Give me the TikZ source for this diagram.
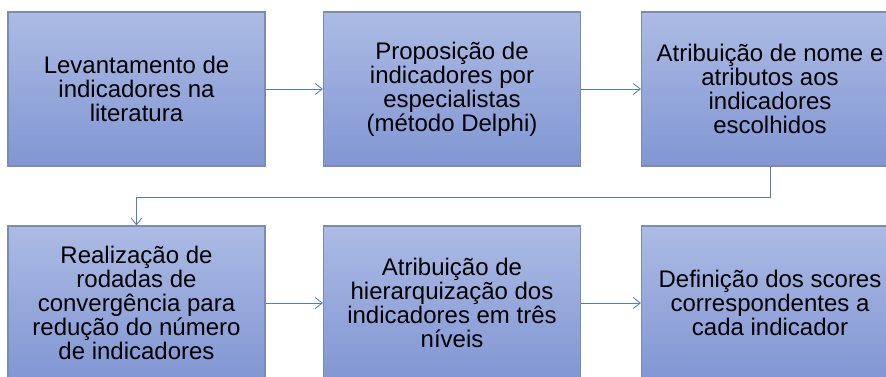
\documentclass[tikz,border=0pt]{standalone}
\usepackage{fontspec}
\setmainfont{Liberation Sans}
\usetikzlibrary{arrows.meta}
\definecolor{boxtop}{RGB}{172,187,228}
\definecolor{boxbot}{RGB}{129,150,211}
\definecolor{boxline}{RGB}{125,138,178}
\definecolor{conn}{RGB}{79,125,189}
\begin{document}
\begin{tikzpicture}[x=1pt,y=-1pt,
  stepbox/.style={rectangle, draw=boxline, line width=1.2pt,
    top color=boxtop, bottom color=boxbot,
    minimum width=257pt, minimum height=154pt, inner sep=0pt,
    align=center, text=black, font=\fontsize{24}{24}\selectfont},
  conline/.style={draw=conn, line width=1pt,
    -{Straight Barb[length=7pt,width=11pt,line width=0.8pt]}}]
\useasboundingbox (0,0) rectangle (886,376);
\fill[white] (0,0) rectangle (886,376);
\node[stepbox] (b1) at (136.5,89) {Levantamento de\\indicadores na\\literatura};
\node[stepbox] (b2) at (452,89) {Proposição de\\indicadores por\\especialistas\\(método Delphi)};
\node[stepbox] (b3) at (770,89) {Atribuição de nome e\\atributos aos\\indicadores\\escolhidos};
\node[stepbox] (b4) at (136.5,303) {Realização de\\rodadas de\\convergência para\\redução do número\\de indicadores};
\node[stepbox] (b5) at (452,303) {Atribuição de\\hierarquização dos\\indicadores em três\\níveis};
\node[stepbox] (b6) at (770,303) {Definição dos scores\\correspondentes a\\cada indicador};
\draw[conline] (b1) -- (b2);
\draw[conline] (b2) -- (b3);
\draw[conline] (b3.south) -- ++(0,31) -| (b4.north);
\draw[conline] (b4) -- (b5);
\draw[conline] (b5) -- (b6);
\end{tikzpicture}
\end{document}
